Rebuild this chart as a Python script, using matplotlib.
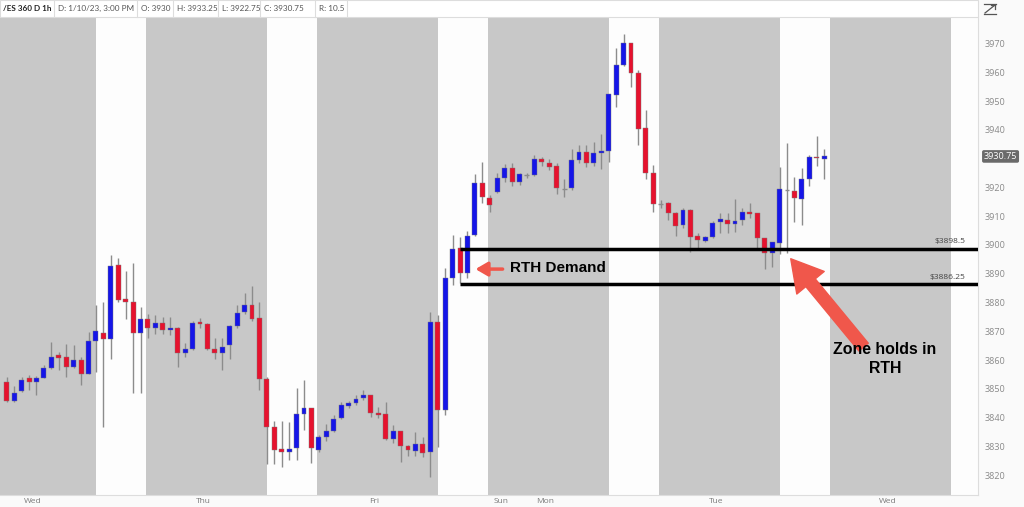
import matplotlib
matplotlib.use("Agg")
import matplotlib.pyplot as plt
from matplotlib.patches import Rectangle

# ES 1h bars, Tue 1/3 20:00 CT -> Tue 1/10 14:00 CT
opens = [3852.2, 3845.8, 3849.2, 3853.6, 3852.4, 3853.8, 3857.4, 3861.6, 3860.9, 3857.7,
         3860.0, 3855.3, 3866.7, 3869.5, 3867.2, 3893.0, 3881.2, 3880.0, 3869.5, 3874.1,
         3871.2, 3872.9, 3870.4, 3871.0, 3862.6, 3863.8, 3873.1, 3872.5, 3863.8, 3862.6,
         3865.2, 3871.8, 3876.6, 3879.1, 3874.7, 3853.4, 3836.6, 3829.0, 3828.0, 3829.3,
         3841.2, 3843.5, 3828.9, 3833.3, 3835.4, 3840.0, 3844.2, 3845.0, 3846.8, 3847.8,
         3841.7, 3841.1, 3832.7, 3835.4, 3830.2, 3828.4, 3830.7, 3828.1, 3873.1, 3842.8,
         3888.6, 3898.8, 3890.3, 3903.4, 3921.6, 3916.2, 3918.5, 3923.1, 3926.6, 3921.7,
         3924.3, 3924.3, 3929.7, 3928.6, 3927.4, 3919.3, 3919.9, 3929.5, 3932.2, 3928.6,
         3932.1, 3932.7, 3952.1, 3962.5, 3970.1, 3959.6, 3940.5, 3925.1, 3914.2, 3914.7,
         3911.2, 3906.9, 3912.1, 3903.1, 3901.5, 3902.9, 3907.8, 3908.7, 3907.3, 3908.6,
         3911.4, 3911.0, 3902.3, 3897.1, 3900.8, 3919.1, 3918.8, 3916.0, 3922.8, 3930.7,
         3930.0]
highs = [3854.2, 3850.9, 3854.2, 3854.8, 3854.4, 3858.2, 3866.3, 3862.9, 3865.4, 3865.2,
         3860.9, 3869.8, 3879.1, 3880.2, 3896.5, 3895.3, 3891.0, 3893.6, 3878.3, 3876.0,
         3875.6, 3875.0, 3874.8, 3871.5, 3866.0, 3873.6, 3874.5, 3872.7, 3867.5, 3867.5,
         3872.0, 3879.1, 3883.2, 3885.7, 3880.2, 3854.2, 3838.9, 3838.7, 3838.5, 3850.3,
         3853.0, 3843.5, 3834.0, 3837.7, 3840.9, 3845.5, 3845.7, 3847.8, 3849.6, 3848.0,
         3843.8, 3845.3, 3837.4, 3835.4, 3830.4, 3835.1, 3833.3, 3876.6, 3875.6, 3891.9,
         3903.4, 3902.6, 3904.8, 3924.6, 3928.7, 3917.3, 3924.9, 3928.1, 3928.3, 3925.1,
         3925.0, 3931.2, 3930.6, 3929.7, 3928.3, 3922.8, 3933.3, 3934.7, 3934.7, 3935.9,
         3938.4, 3952.3, 3968.3, 3973.3, 3970.3, 3960.8, 3946.9, 3927.8, 3915.6, 3915.0,
         3911.5, 3912.7, 3912.5, 3904.0, 3903.0, 3908.4, 3911.0, 3911.0, 3916.0, 3913.0,
         3914.7, 3911.0, 3902.5, 3901.0, 3927.2, 3935.3, 3923.5, 3926.6, 3931.2, 3937.9,
         3933.25]
lows = [3845.5, 3845.5, 3849.0, 3849.5, 3847.8, 3853.6, 3857.0, 3856.5, 3854.2, 3857.1,
        3851.3, 3855.0, 3855.9, 3836.8, 3860.2, 3880.0, 3874.1, 3848.4, 3848.4, 3867.8,
        3869.2, 3869.0, 3868.7, 3857.7, 3861.1, 3863.5, 3871.0, 3863.5, 3860.5, 3856.5,
        3860.5, 3871.0, 3876.0, 3873.5, 3849.5, 3823.8, 3824.0, 3822.9, 3825.2, 3825.2,
        3835.7, 3824.3, 3828.1, 3832.0, 3835.1, 3839.5, 3843.2, 3844.5, 3846.1, 3840.3,
        3839.7, 3832.2, 3831.0, 3824.7, 3826.6, 3826.6, 3826.4, 3819.4, 3829.9, 3841.0,
        3886.1, 3886.6, 3888.4, 3903.0, 3914.5, 3911.6, 3918.0, 3922.0, 3920.5, 3920.8,
        3923.2, 3924.0, 3927.5, 3926.0, 3917.7, 3916.8, 3919.0, 3928.3, 3927.2, 3927.5,
        3926.3, 3928.9, 3948.0, 3962.0, 3954.8, 3934.7, 3923.0, 3911.5, 3913.0, 3908.6,
        3903.0, 3906.0, 3897.6, 3898.2, 3901.1, 3902.5, 3904.0, 3904.2, 3904.6, 3907.0,
        3909.5, 3898.8, 3891.8, 3892.2, 3897.0, 3897.3, 3908.1, 3906.9, 3920.5, 3927.4,
        3922.75]
closes = [3845.8, 3848.7, 3853.2, 3852.4, 3853.6, 3857.4, 3861.1, 3860.8, 3857.7, 3860.0,
          3855.1, 3866.7, 3870.1, 3867.2, 3892.6, 3880.8, 3880.0, 3869.5, 3874.1, 3871.3,
          3872.7, 3870.4, 3871.0, 3862.3, 3863.8, 3872.7, 3872.6, 3863.8, 3862.6, 3864.6,
          3871.8, 3876.2, 3879.1, 3874.4, 3853.4, 3836.6, 3828.7, 3828.0, 3829.0, 3841.2,
          3843.5, 3829.3, 3833.1, 3835.3, 3839.4, 3844.3, 3844.9, 3846.4, 3847.8, 3841.5,
          3841.0, 3832.4, 3835.4, 3830.2, 3828.7, 3830.7, 3827.8, 3873.1, 3842.8, 3888.4,
          3898.5, 3890.3, 3903.1, 3921.6, 3916.5, 3913.9, 3923.1, 3926.6, 3921.7, 3924.6,
          3924.3, 3929.7, 3928.7, 3927.2, 3919.9, 3919.3, 3929.6, 3932.2, 3928.6, 3931.8,
          3932.8, 3952.3, 3962.5, 3970.1, 3959.6, 3940.3, 3924.9, 3914.1, 3914.2, 3911.2,
          3906.6, 3912.1, 3902.9, 3901.7, 3902.8, 3907.7, 3908.9, 3907.4, 3908.4, 3911.4,
          3910.6, 3902.3, 3897.3, 3900.9, 3919.3, 3919.1, 3916.2, 3922.8, 3930.7, 3930.2,
          3930.75]

# trading-hour axis: 0 = Wed 00:00 CT, one day = 23 session hours
first_bar = -3.5
day_names = ["Wed", "Thu", "Fri", "Sun", "Mon", "Tue", "Wed"]
day_ticks = [0, 23, 46, 63, 69, 92, 115]
rth_open, rth_close = 8.5, 15.25
zone_top, zone_bottom = 3898.5, 3886.25
zone_start = 57.5
last_price = 3930.75
price_ticks = list(range(3820, 3971, 10))

BLUE = "#1515e8"
RED = "#e6122e"
WICK = "#8c8c8c"
SALMON = "#f0574b"

plt.rcParams["font.family"] = ["Open Sans", "DejaVu Sans"]

fig = plt.figure(figsize=(10.24, 5.07), dpi=100)
fig.patch.set_facecolor("#fafafa")
ax = fig.add_axes([0, 12 / 507, 978 / 1024, 478 / 507])
ax.set_facecolor("#c8c8c8")

xs = [first_bar + i for i in range(len(opens))]
ax.set_xlim(-4.41, 127.2)
ax.set_ylim(3813.1, 3979.2)

# RTH sessions in white
for d in range(6):
    ax.axvspan(23 * d + rth_open, 23 * d + rth_close, color="#fdfdfd", lw=0, zorder=0)

ax.vlines(xs, lows, highs, color=WICK, lw=1, zorder=2)
for x, o, c in zip(xs, opens, closes):
    if abs(c - o) < 0.05:
        ax.hlines(o, x - 0.33, x + 0.33, color=WICK, lw=1, zorder=3)
        continue
    col = BLUE if c > o else RED
    ax.bar(x, abs(c - o), bottom=min(o, c), width=0.66, color=col,
           edgecolor="#7a7a7a", linewidth=0.3, zorder=3)

# demand zone
ax.hlines([zone_top, zone_bottom], zone_start, 127.2, color="black", lw=2.5, zorder=4)
ax.text(125.5, zone_top + 2.6, "$3898.5", fontsize=6, color="#444444", ha="right", va="center")
ax.text(125.5, zone_bottom + 2.6, "$3886.25", fontsize=6, color="#444444", ha="right", va="center")

ax.annotate("", xy=(59.2, 3891.6), xytext=(63.6, 3891.6),
            arrowprops=dict(arrowstyle="-|>,head_width=0.35,head_length=0.6",
                            color=SALMON, lw=2.5, mutation_scale=12), zorder=5)
ax.text(64.2, 3891.9, "RTH Demand", fontsize=11, fontweight="bold",
        family="Liberation Sans", ha="left", va="center", zorder=5)

ax.annotate("", xy=(102.0, 3895.2), xytext=(111.8, 3864.5),
            arrowprops=dict(arrowstyle="simple,head_width=1.6,head_length=1.4,tail_width=0.55",
                            color=SALMON, mutation_scale=16, shrinkA=0, shrinkB=0), zorder=5)
ax.text(114.7, 3860.3, "Zone holds in\nRTH", fontsize=11.4, fontweight="bold",
        family="Liberation Sans", ha="center", va="center", linespacing=1.35, zorder=5)

# axes styling
ax.yaxis.tick_right()
ax.set_yticks(price_ticks)
# the last-price box sits over 3930
ax.set_yticklabels(["" if p == 3930 else str(p) for p in price_ticks])
ax.tick_params(axis="y", length=0, pad=5, labelsize=6.5, labelcolor="#8a8a8a")
ax.set_xticks(day_ticks)
ax.set_xticklabels(day_names)
ax.tick_params(axis="x", length=0, pad=2, labelsize=6, labelcolor="#7a7a7a")
for s in ["top", "left"]:
    ax.spines[s].set_visible(False)
for s in ["right", "bottom"]:
    ax.spines[s].set_color("#dddddd")
    ax.spines[s].set_linewidth(0.8)

ax.text(1.006, last_price, f"{last_price:.2f}", transform=ax.get_yaxis_transform(),
        fontsize=6.5, color="white", ha="left", va="center", zorder=6, clip_on=False,
        bbox=dict(boxstyle="round,pad=0.2,rounding_size=0.2", fc="#6a6a6a", ec="none"))

# header strip
fig.patches.append(Rectangle((0, 490 / 507), 978 / 1024, 17 / 507, transform=fig.transFigure,
                             facecolor="#ffffff", edgecolor="#dddddd", lw=0.8, zorder=5))
header = [("/ES 360 D 1h", 3, "bold"), ("D: 1/10/23, 3:00 PM", 58, "normal"),
          ("O: 3930", 141, "normal"), ("H: 3933.25", 177, "normal"),
          ("L: 3922.75", 222, "normal"), ("C: 3930.75", 264, "normal"), ("R: 10.5", 319, "normal")]
edges = [54, 137, 173, 218, 260, 315, 347]
for (txt, x, w), e in zip(header, edges):
    fig.text(x / 1024, 1 - 8.5 / 507, txt, fontsize=5.9, fontweight=w, family="Lato",
             color="#222222" if w == "bold" else "#555555", va="center", zorder=6)
    fig.add_artist(plt.Line2D([e / 1024, e / 1024], [490 / 507, 1], color="#dddddd", lw=0.8,
                              transform=fig.transFigure, zorder=6))

# small zoom icon top right (drawn as lines)
icon = [([984, 996], [4, 4]), ([984, 996], [14, 14]), ([985, 995], [13, 5]),
        ([991, 995], [5, 5]), ([995, 995], [5, 9])]
for px, py in icon:
    fig.add_artist(plt.Line2D([v / 1024 for v in px], [1 - v / 507 for v in py],
                              color="#555555", lw=0.9, transform=fig.transFigure))

fig.savefig("out.png", dpi=100, facecolor=fig.get_facecolor())
